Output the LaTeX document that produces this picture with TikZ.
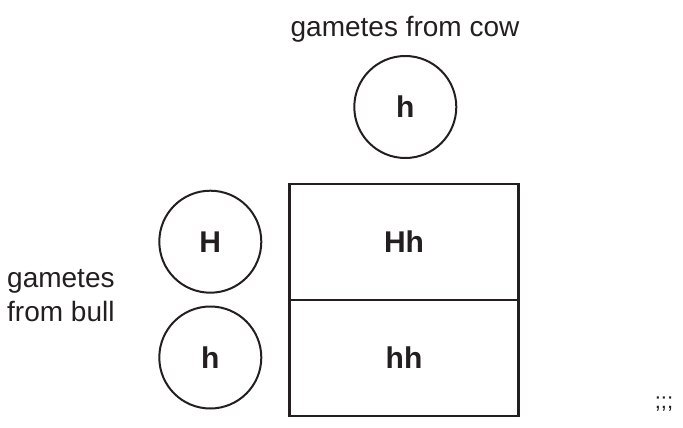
\documentclass[tikz,border=0pt]{standalone}
\usepackage{fontspec}
\setmainfont{Liberation Sans}
\definecolor{ink}{HTML}{231F20}
\begin{document}
\begin{tikzpicture}[x=1pt,y=-1pt,
  gamete/.style={draw=ink,line width=2pt,circle,minimum size=102pt,inner sep=0pt,font=\fontsize{30}{34}\selectfont\bfseries,text=ink},
  cell/.style={draw=ink,line width=2.5pt,rectangle,minimum width=229.4pt,minimum height=116pt,inner sep=0pt,font=\fontsize{30}{34}\selectfont\bfseries,text=ink},
  lbl/.style={font=\fontsize{28}{34}\selectfont,text=ink,inner sep=0pt}]
\useasboundingbox (0,0) rectangle (683,428);
\node[gamete] (cow) at (405.3,107) {h};
\node[gamete] (bH) at (210.3,241.7) {H};
\node[gamete] (bh) at (210.3,357.5) {h};
\node[cell] (c1) at (404,241.8) {Hh};
\node[cell] (c2) at (404,358) {hh};
\node[lbl,anchor=base] (tcow) at (405,37) {gametes from cow};
\node[lbl,anchor=west,align=left] (tbull) at (7,296) {gametes\\from bull};
\node[font=\fontsize{22}{24}\selectfont,text=ink,inner sep=0pt,anchor=base] (semi) at (664,408) {;;;};
\end{tikzpicture}
\end{document}
